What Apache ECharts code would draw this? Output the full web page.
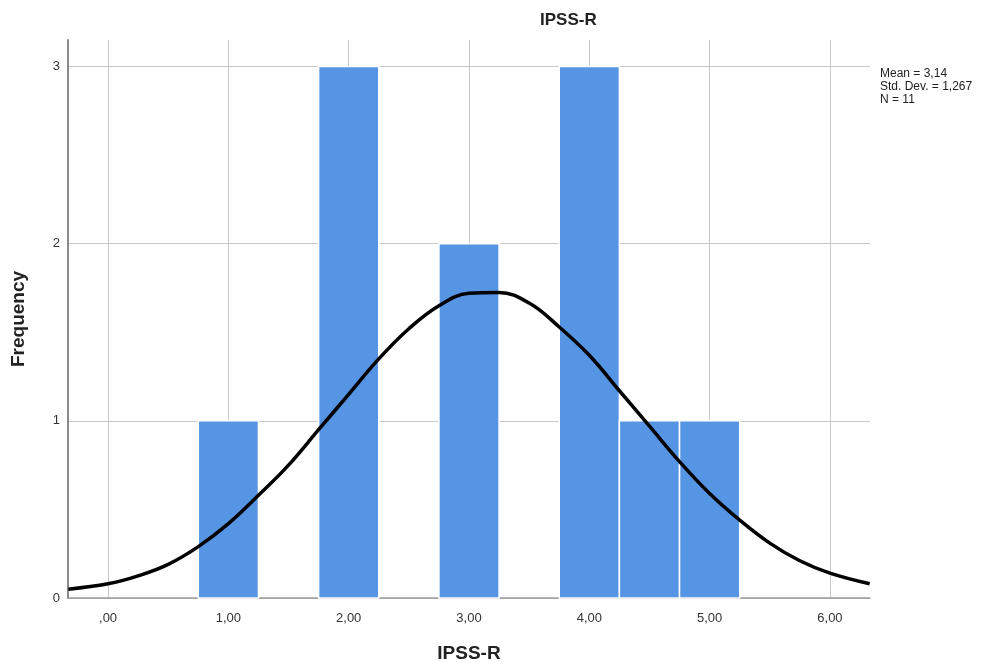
<!DOCTYPE html>
<html>
<head>
<meta charset="utf-8">
<script src="https://cdn.jsdelivr.net/npm/echarts@6/dist/echarts.min.js"></script>
<style>
  html, body { margin: 0; padding: 0; background: #fff; }
  #chart { width: 1000px; height: 669px; }
</style>
</head>
<body>
<div id="chart"></div>
<script>
// histogram bins (IPSS-R)
const binStart = [0.75, 1.75, 2.75, 3.75, 4.25, 4.75];
const binEnd = [1.25, 2.25, 3.25, 4.25, 4.75, 5.25];
const counts = [1, 3, 2, 3, 1, 1];

// normal curve
const curveX = [-0.33, 0, 0.25, 0.5, 0.75, 1.0, 1.25, 1.5, 1.75, 2.0, 2.25, 2.5, 2.75, 3.0, 3.25, 3.5, 3.75, 4.0, 4.25, 4.5, 4.75, 5.0, 5.25, 5.5, 5.75, 6.0, 6.33];
const curveY = [0.05, 0.08, 0.125, 0.19, 0.29, 0.42, 0.58, 0.75, 0.95, 1.15, 1.35, 1.52, 1.65, 1.72, 1.725, 1.665, 1.53, 1.37, 1.17, 0.97, 0.77, 0.59, 0.44, 0.31, 0.21, 0.14, 0.08];

const xTicks = [0, 1, 2, 3, 4, 5, 6];
const xTickLabels = [',00', '1,00', '2,00', '3,00', '4,00', '5,00', '6,00'];
const yTicks = [0, 1, 2, 3];
const statsLines = ['Mean = 3,14', 'Std. Dev. = 1,267', 'N = 11'];

const chart = echarts.init(document.getElementById('chart'));

const option = {
  backgroundColor: '#fff',
  animation: false,
  title: {
    text: 'IPSS-R',
    left: 535,
    top: 7,
    textStyle: { fontFamily: 'Liberation Sans', fontSize: 17, fontWeight: 'bold', color: '#222' }
  },
  grid: { left: 68, right: 130, top: 40, bottom: 71 },
  xAxis: {
    type: 'value',
    min: -0.333,
    max: 6.333,
    name: 'IPSS-R',
    nameLocation: 'middle',
    nameGap: 46,
    nameTextStyle: { fontFamily: 'Liberation Sans', fontSize: 19, fontWeight: 'bold', color: '#222' },
    axisLine: { show: true, onZero: false, lineStyle: { color: '#9a9a9a', width: 1.5 } },
    axisTick: { show: false, customValues: xTicks },
    axisLabel: {
      customValues: xTicks,
      margin: 14,
      fontFamily: 'Liberation Sans', fontSize: 13, color: '#333',
      formatter: v => xTickLabels[xTicks.indexOf(Math.round(v))]
    },
    splitLine: { show: true, lineStyle: { color: '#c8c8c8', width: 1 } }
  },
  yAxis: {
    type: 'value',
    min: 0,
    max: 3.15,
    name: 'Frequency',
    nameLocation: 'middle',
    nameGap: 40,
    nameTextStyle: { fontFamily: 'Liberation Sans', fontSize: 19, fontWeight: 'bold', color: '#222' },
    axisLine: { show: true, onZero: false, lineStyle: { color: '#8a8a8a', width: 2 } },
    axisTick: { show: false, customValues: yTicks },
    axisLabel: { customValues: yTicks, margin: 8, fontFamily: 'Liberation Sans', fontSize: 13, color: '#333' },
    splitLine: { show: true, lineStyle: { color: '#c8c8c8', width: 1 } }
  },
  graphic: [{
    type: 'text',
    left: 880,
    top: 67,
    style: {
      text: statsLines.join('\n'),
      font: '12px "Liberation Sans"',
      lineHeight: 13,
      fill: '#222'
    }
  }],
  series: [
    {
      type: 'custom',
      data: counts.map((c, i) => [binStart[i], binEnd[i], c]),
      encode: { x: [0, 1], y: 2 },
      renderItem: (params, api) => {
        const p0 = api.coord([api.value(0), api.value(2)]);
        const p1 = api.coord([api.value(1), 0]);
        return {
          type: 'rect',
          shape: { x: p0[0], y: p0[1], width: p1[0] - p0[0], height: p1[1] - p0[1] },
          style: { fill: '#5595e3', stroke: '#ffffff', lineWidth: 1.5 }
        };
      }
    },
    {
      type: 'line',
      data: curveX.map((x, i) => [x, curveY[i]]),
      smooth: 0.4,
      showSymbol: false,
      lineStyle: { color: '#000', width: 3.5 },
      z: 5
    }
  ]
};

chart.setOption(option);
</script>
</body>
</html>
